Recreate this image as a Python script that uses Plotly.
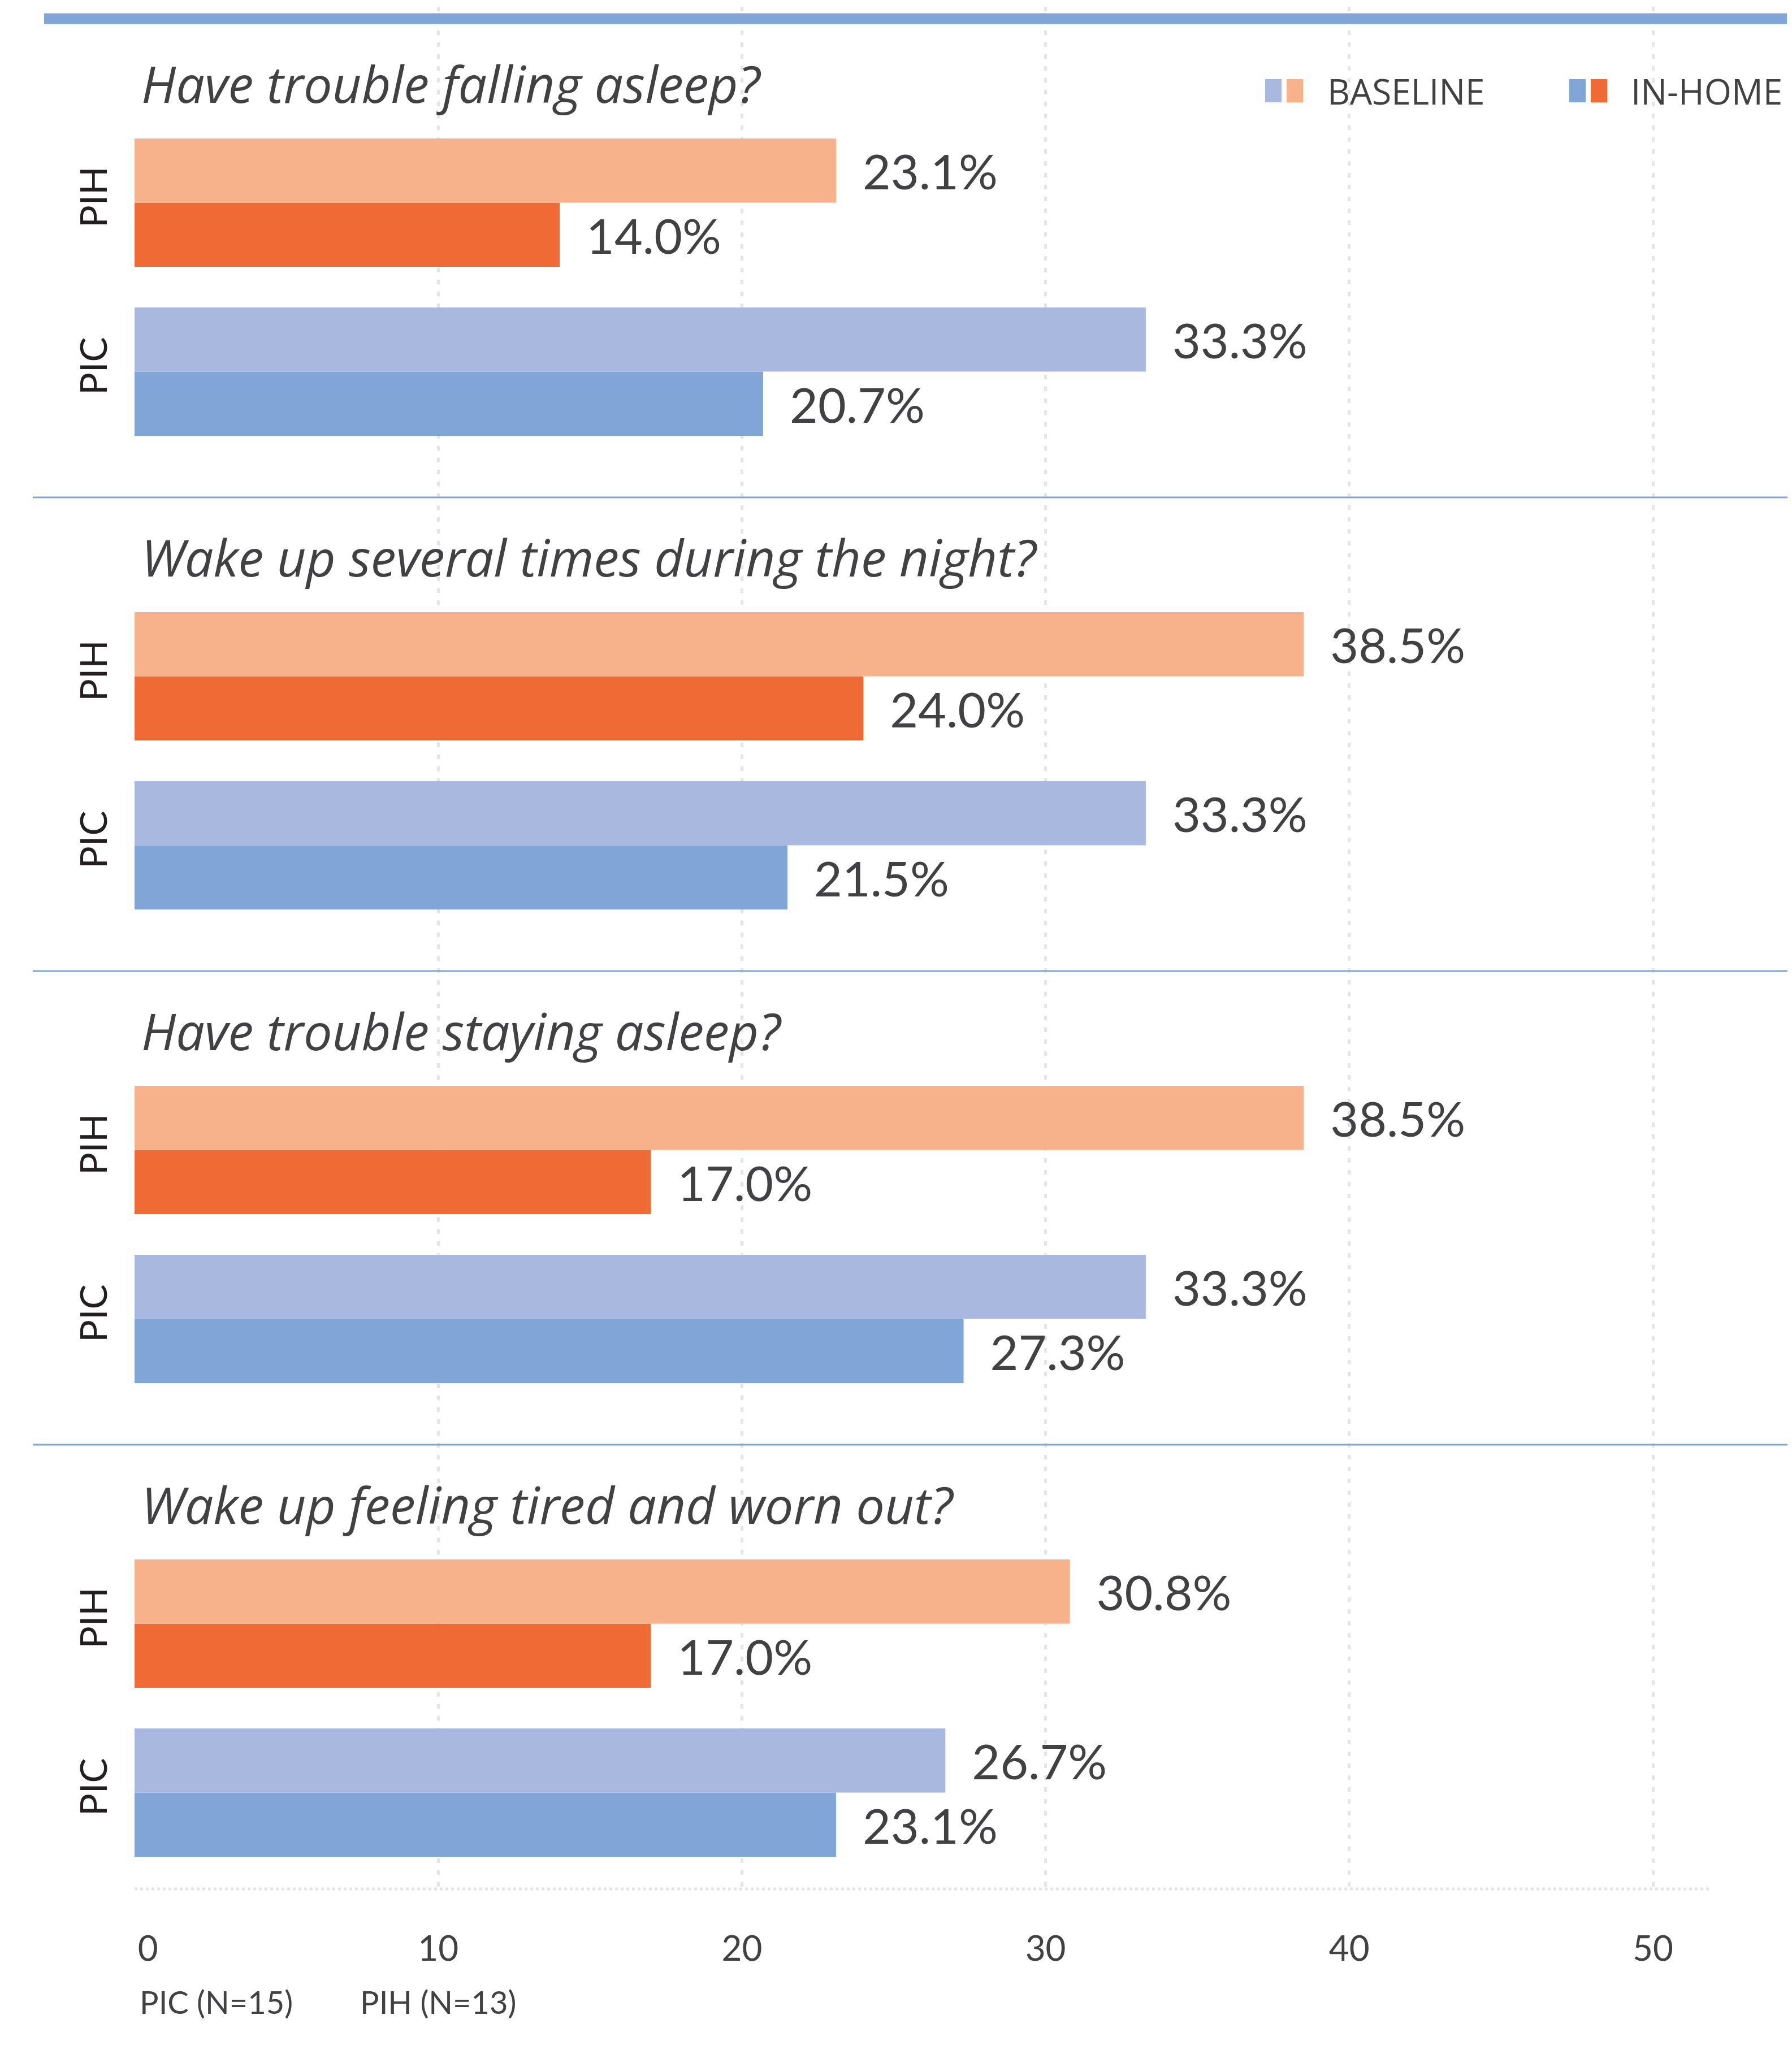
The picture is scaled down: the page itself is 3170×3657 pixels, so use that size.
import plotly.graph_objects as go

# ---------------- data ----------------
questions = [
    "Have trouble falling asleep?",
    "Wake up several times during the night?",
    "Have trouble staying asleep?",
    "Wake up feeling tired and worn out?",
]
groups = ["PIC", "PIH"]
baseline_pic = [33.3, 33.3, 33.3, 26.7]
inhome_pic = [20.7, 21.5, 27.3, 23.1]
baseline_pih = [23.1, 38.5, 38.5, 30.8]
inhome_pih = [14.0, 24.0, 17.0, 17.0]
x_ticks = [0, 10, 20, 30, 40, 50]
legend_labels = ["BASELINE", "IN-HOME"]
footnotes = ["PIC (N=15)", "PIH (N=13)"]

# ---------------- style ----------------
W, H = 3170, 3657
C_LIGHT_BLUE = "#a9b8df"
C_BLUE = "#80a5d6"
C_LIGHT_ORANGE = "#f7b28b"
C_ORANGE = "#f06a35"
TXT = "#414042"
FONT = "Lato, 'Open Sans', sans-serif"
FONT_WIDE = "'Open Sans', Lato, sans-serif"


def px(x):
    return x / W


def py(y):
    return 1 - y / H


X_LEFT, X_RIGHT = 238, 3025
PX_PER_UNIT = 53.72
X_RANGE = [0, (X_RIGHT - X_LEFT) / PX_PER_UNIT]

tick_text = [("\u00a0" * 3 + str(t)) if t == 0 else str(t) for t in x_ticks]

fig = go.Figure()

# background subplot carrying the dashed vertical grid + bottom tick labels
fig.add_trace(go.Scatter(x=[None], y=[None], xaxis="x", yaxis="y",
                         showlegend=False, hoverinfo="skip"))

layout = dict(
    width=W, height=H,
    margin=dict(l=0, r=0, t=0, b=0, pad=0, autoexpand=False),
    paper_bgcolor="white",
    plot_bgcolor="rgba(0,0,0,0)",
    barmode="group", bargap=0.24, bargroupgap=0,
    showlegend=False,
    xaxis=dict(domain=[px(X_LEFT), px(X_RIGHT)], range=X_RANGE, anchor="y",
               tickvals=x_ticks, ticktext=tick_text,
               showgrid=True, gridcolor="#e4e4e4", gridwidth=5, griddash="8px,13px",
               zeroline=False, showline=False, automargin=False,
               ticks="outside", ticklen=52, tickcolor="rgba(0,0,0,0)",
               tickfont=dict(family=FONT, size=62, color=TXT), fixedrange=True),
    yaxis=dict(domain=[py(3342), py(12)], range=[0, 1], anchor="x", automargin=False,
               showgrid=False, zeroline=False, showticklabels=False, fixedrange=True),
)

TOP0, STEP, PANEL_H = 209, 838, 598
for k in range(4):
    xa, ya = f"x{k + 2}", f"y{k + 2}"
    # In-home first (drawn lower), baseline second (drawn upper)
    fig.add_trace(go.Bar(
        orientation="h", y=groups, x=[inhome_pic[k], inhome_pih[k]],
        marker=dict(color=[C_BLUE, C_ORANGE], line=dict(width=0)),
        texttemplate="\u00a0\u00a0%{x:.1f}%", textposition="outside",
        textfont=dict(family=FONT, size=86, color=TXT),
        constraintext="none", cliponaxis=False,
        xaxis=xa, yaxis=ya, name=legend_labels[1], hoverinfo="skip"))
    fig.add_trace(go.Bar(
        orientation="h", y=groups, x=[baseline_pic[k], baseline_pih[k]],
        marker=dict(color=[C_LIGHT_BLUE, C_LIGHT_ORANGE], line=dict(width=0)),
        texttemplate="\u00a0\u00a0%{x:.1f}%", textposition="outside",
        textfont=dict(family=FONT, size=86, color=TXT),
        constraintext="none", cliponaxis=False,
        xaxis=xa, yaxis=ya, name=legend_labels[0], hoverinfo="skip"))
    top = TOP0 + STEP * k
    layout[f"xaxis{k + 2}"] = dict(domain=[px(X_LEFT), px(X_RIGHT)], range=X_RANGE,
                                   anchor=ya, showgrid=False, zeroline=False,
                                   showline=False, showticklabels=False,
                                   automargin=False, fixedrange=True)
    layout[f"yaxis{k + 2}"] = dict(domain=[py(top + PANEL_H), py(top)], anchor=xa,
                                   type="category", categoryorder="array",
                                   categoryarray=groups, range=[-0.5, 1.5],
                                   tickangle=-90, ticks="outside", ticklen=22,
                                   tickcolor="rgba(0,0,0,0)", showgrid=False,
                                   zeroline=False, showline=False, automargin=False,
                                   tickfont=dict(family=FONT, size=66, color="#231f20"),
                                   fixedrange=True)

fig.update_layout(**layout)

shapes = []
annotations = []

# thick top rule
shapes.append(dict(type="line", xref="paper", yref="paper",
                   x0=px(78), x1=px(3161), y0=py(33), y1=py(33),
                   line=dict(color=C_BLUE, width=19), layer="above"))
# panel separators
for k in range(3):
    yy = 880 + STEP * k
    shapes.append(dict(type="line", xref="paper", yref="paper",
                       x0=px(58), x1=px(3162), y0=py(yy), y1=py(yy),
                       line=dict(color=C_BLUE, width=3), layer="above"))
# dotted baseline of the chart area
shapes.append(dict(type="line", xref="x domain", yref="y domain",
                   x0=0, x1=1, y0=0, y1=0,
                   line=dict(color="#e4e4e4", width=5, dash="dot"), layer="below"))

# panel titles
for k, q in enumerate(questions):
    annotations.append(dict(text=q, xref="paper", yref="paper",
                            x=px(248), y=py(147 + STEP * k),
                            xanchor="left", yanchor="middle", showarrow=False,
                            font=dict(family=FONT_WIDE, size=90, color=TXT, style="italic")))

# legend
legend_items = [
    (legend_labels[0], C_LIGHT_BLUE, C_LIGHT_ORANGE, 2238, 2346),
    (legend_labels[1], C_BLUE, C_ORANGE, 2776, 2883),
]
for label, c1, c2, sx, tx in legend_items:
    shapes.append(dict(type="rect", xref="paper", yref="paper",
                       x0=px(sx), x1=px(sx + 29), y0=py(181), y1=py(140),
                       fillcolor=c1, line=dict(width=0)))
    shapes.append(dict(type="rect", xref="paper", yref="paper",
                       x0=px(sx + 38), x1=px(sx + 67), y0=py(181), y1=py(140),
                       fillcolor=c2, line=dict(width=0)))
    annotations.append(dict(text=label, xref="paper", yref="paper",
                            x=px(tx), y=py(161), xanchor="left", yanchor="middle",
                            showarrow=False,
                            font=dict(family=FONT_WIDE, size=62, color=TXT)))

# footnotes
for fx, note in zip([245, 635], footnotes):
    annotations.append(dict(text=note, xref="paper", yref="paper",
                            x=px(fx), y=py(3541), xanchor="left", yanchor="middle",
                            showarrow=False, font=dict(family=FONT, size=56, color=TXT)))

fig.update_layout(shapes=shapes, annotations=annotations)
fig.write_html("out.html")
